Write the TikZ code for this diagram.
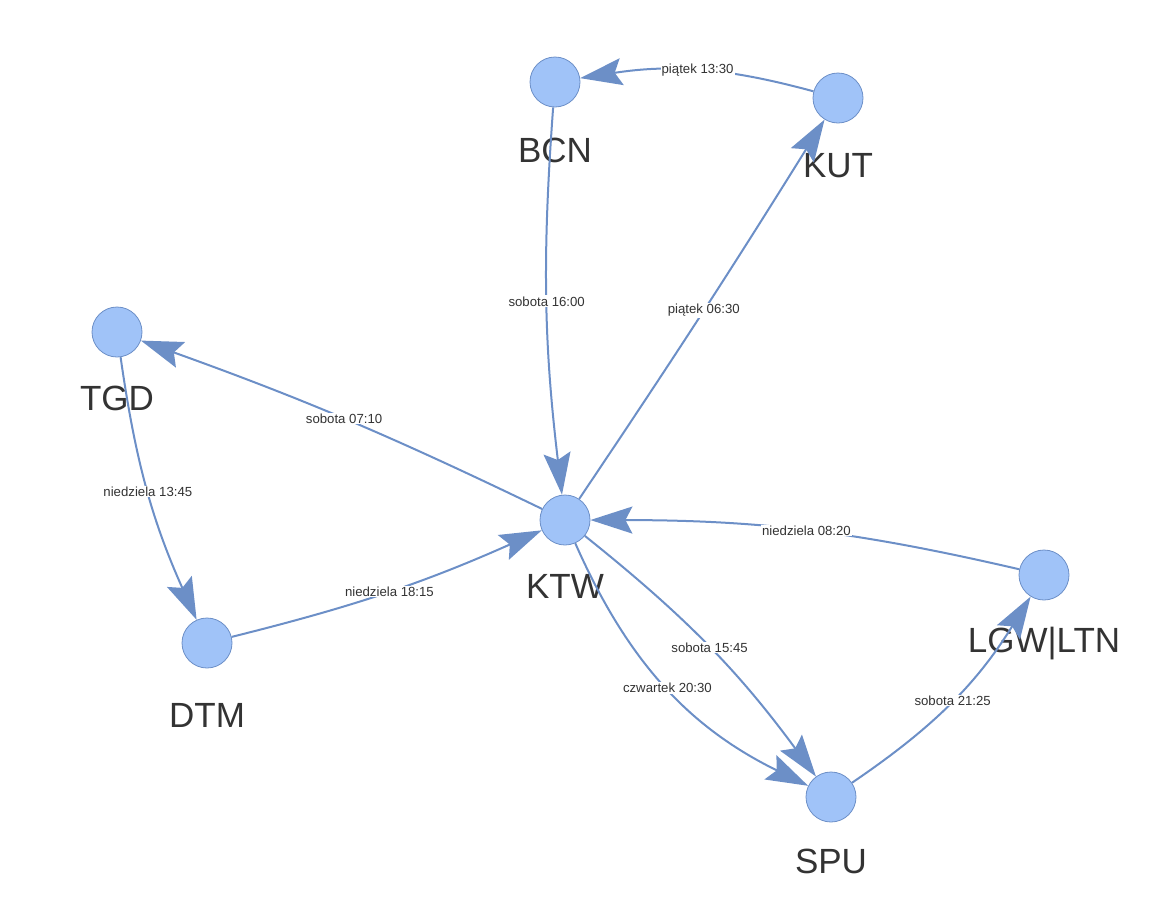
\documentclass[tikz,border=0pt]{standalone}
\usepackage{fontspec}
\setmainfont{Liberation Sans}
\usetikzlibrary{arrows.meta}
\definecolor{edgec}{HTML}{6C8FC7}
\definecolor{nodef}{HTML}{A0C3F8}
\definecolor{txt}{HTML}{333333}
\begin{document}
\begin{tikzpicture}[x=1pt,y=1pt,
  airport/.style={circle, fill=nodef, draw=edgec, line width=0.8pt, minimum size=50pt, inner sep=0pt},
  nlabel/.style={font=\fontsize{35}{40}\selectfont, text=txt, anchor=base, inner sep=0pt},
  flight/.style={draw=edgec, line width=2pt, -{Stealth[length=42pt,width=27pt,inset=7pt,fill=edgec]}},
  elabel/.style={font=\fontsize{13.2}{15}\selectfont, text=txt, fill=white, inner sep=1pt}]
\useasboundingbox (0,0) rectangle (1168,-919);
% nodes
\node[airport] (BCN) at (555,-82) {};
\node[airport] (KUT) at (838,-98) {};
\node[airport] (TGD) at (117,-332) {};
\node[airport] (KTW) at (565,-520) {};
\node[airport] (DTM) at (207,-643) {};
\node[airport] (LGW) at (1044,-575) {};
\node[airport] (SPU) at (831,-797) {};
% node labels
\node[nlabel] (BCNl) at (555,-162) {BCN};
\node[nlabel] (KUTl) at (838,-177) {KUT};
\node[nlabel] (TGDl) at (117,-410) {TGD};
\node[nlabel] (KTWl) at (565,-598) {KTW};
\node[nlabel] (DTMl) at (207,-727) {DTM};
\node[nlabel] (LGWl) at (1044,-652) {LGW|LTN};
\node[nlabel] (SPUl) at (831,-873) {SPU};
% edges
\draw[flight] (KUT) to[bend right=12] node[elabel] {piątek 13:30} (BCN);
\draw[flight] (BCN) to[bend right=5.5] node[elabel] {sobota 16:00} (KTW);
\draw[flight] (KTW) to[bend right=1] node[elabel] {piątek 06:30} (KUT);
\draw[flight] (KTW) to[bend right=3] node[elabel] {sobota 07:10} (TGD);
\draw[flight] (TGD) to[bend right=8] node[elabel] {niedziela 13:45} (DTM);
\draw[flight] (DTM) to[bend right=5] node[elabel] {niedziela 18:15} (KTW);
\draw[flight] (LGW) to[bend right=6.5] node[elabel] {niedziela 08:20} (KTW);
\draw[flight] (KTW) to[bend left=7.5] node[elabel] {sobota 15:45} (SPU);
\draw[flight] (KTW) to[bend right=20] node[elabel] {czwartek 20:30} (SPU);
\draw[flight] (SPU) to[bend right=12] node[elabel] {sobota 21:25} (LGW);
\end{tikzpicture}
\end{document}
